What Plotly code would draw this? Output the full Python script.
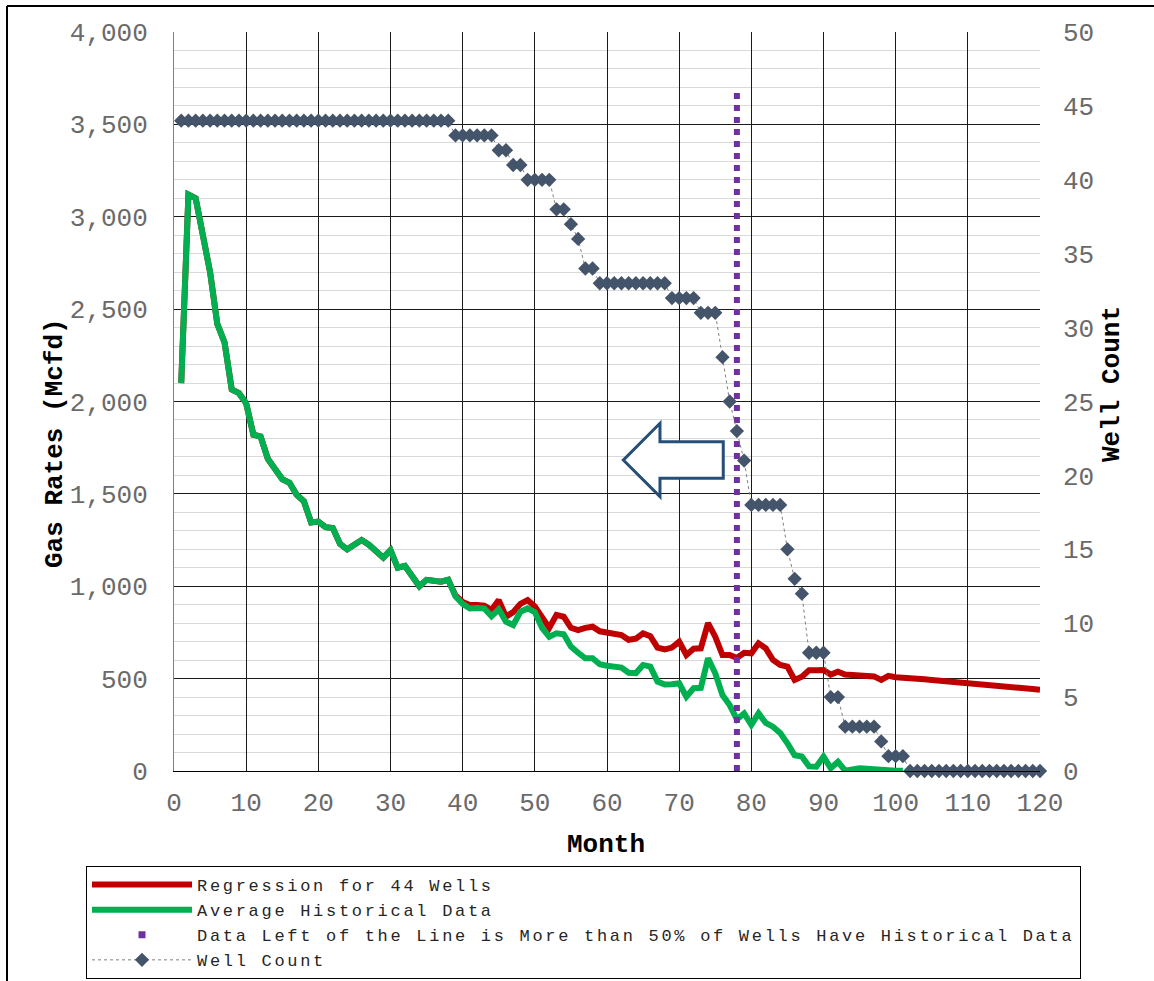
import plotly.graph_objects as go

# ---------------- data ----------------
months = list(range(1, 121))

avg_hist = [
    2100, 3120, 3100, 2880, 2700, 2420, 2320, 2065, 2045, 1990,
    1820, 1810, 1690, 1635, 1580, 1560, 1495, 1460, 1345, 1350,
    1320, 1315, 1230, 1200, 1225, 1250, 1225, 1190, 1155, 1195,
    1100, 1110, 1055, 1000, 1035, 1030, 1025, 1035, 945, 905,
    880, 882, 880, 838, 875, 808, 790, 862, 880, 860,
    775, 727, 745, 740, 673, 640, 610, 610, 578, 570,
    565, 560, 532, 530, 574, 565, 484, 468, 470, 475,
    402, 448, 450, 610, 529, 411, 357, 280, 312, 250,
    312, 260, 240, 205, 150, 85, 78, 25, 23, 78,
    15, 50, 2, 8, 15, 12, 8, 3, 2, 2,
    2,
]

regression = [
    2100, 3120, 3100, 2880, 2700, 2420, 2320, 2065, 2045, 1990,
    1820, 1810, 1690, 1635, 1580, 1560, 1495, 1460, 1345, 1350,
    1320, 1315, 1230, 1200, 1225, 1250, 1225, 1190, 1155, 1195,
    1100, 1110, 1055, 1000, 1035, 1030, 1025, 1035, 950, 915,
    898, 898, 895, 871, 925, 835, 860, 905, 925, 890,
    830, 775, 845, 835, 775, 763, 775, 781, 756, 750,
    745, 736, 710, 716, 745, 730, 668, 658, 668, 700,
    628, 662, 664, 800, 727, 628, 628, 612, 640, 637,
    691, 664, 601, 574, 565, 493, 510, 545, 545, 547,
    522, 537, 522, 520, 520, 520, 512, 493, 515, 508,
    507, 503, 500, 497, 493, 490, 487, 484, 480, 476,
    473, 469, 466, 462, 458, 455, 451, 448, 444, 440,
]

well_count = [
    44, 44, 44, 44, 44, 44, 44, 44, 44, 44,
    44, 44, 44, 44, 44, 44, 44, 44, 44, 44,
    44, 44, 44, 44, 44, 44, 44, 44, 44, 44,
    44, 44, 44, 44, 44, 44, 44, 44, 43, 43,
    43, 43, 43, 43, 42, 42, 41, 41, 40, 40,
    40, 40, 38, 38, 37, 36, 34, 34, 33, 33,
    33, 33, 33, 33, 33, 33, 33, 33, 32, 32,
    32, 32, 31, 31, 31, 28, 25, 23, 21, 18,
    18, 18, 18, 18, 15, 13, 12, 8, 8, 8,
    5, 5, 3, 3, 3, 3, 3, 2, 1, 1,
    1, 0, 0, 0, 0, 0, 0, 0, 0, 0,
    0, 0, 0, 0, 0, 0, 0, 0, 0, 0,
]

cutoff_month = [78, 78]
cutoff_rate = [0, 3700]

x_ticks = list(range(0, 121, 10))

series_names = [
    "Regression for 44 Wells",
    "Average Historical Data",
    "Data Left of the Line is More than 50% of Wells Have Historical Data",
    "Well Count",
]

# ---------------- styling ----------------
MONO = "Liberation Mono, Courier New, monospace"
TICK_FONT = dict(family=MONO, size=26, color="#6a6a6a")
TITLE_FONT = dict(family=MONO, size=26, color="#000000", weight="bold")
GRID = "#1a1a1a"


def legend_label(s):
    # widen the monospace legend text so it spans like the reference
    return '<span style="letter-spacing:2.7px">' + s + '</span>'


fig = go.Figure()

fig.add_trace(go.Scatter(
    x=months, y=regression, mode="lines", name=legend_label(series_names[0]),
    line=dict(color="#C00000", width=6)))

fig.add_trace(go.Scatter(
    x=months[:len(avg_hist)], y=avg_hist, mode="lines",
    name=legend_label(series_names[1]),
    line=dict(color="#00B050", width=6)))

fig.add_trace(go.Scatter(
    x=cutoff_month, y=cutoff_rate, mode="lines", showlegend=False,
    name=series_names[2],
    line=dict(color="#7030A0", width=6, dash="dot")))

fig.add_trace(go.Scatter(
    x=[None], y=[None], mode="markers", name=legend_label(series_names[2]),
    marker=dict(symbol="square", color="#7030A0", size=7)))

fig.add_trace(go.Scatter(
    x=months, y=well_count, yaxis="y2", mode="lines+markers",
    name=legend_label(series_names[3]),
    line=dict(color="#7f7f7f", width=1, dash="dot"),
    marker=dict(symbol="diamond", size=11, color="#44546A"),
    cliponaxis=False))

# paper-coordinate helpers (plot area is 866 x 739 px, left 174, top 32)
L, T, W, H = 174, 32, 866, 739


def px_x(p):
    return (p - L) / W


def px_y(p):
    return (T + H - p) / H


fig.update_layout(
    width=1154, height=981,
    margin=dict(l=L, r=1154 - L - W, t=T, b=981 - T - H, autoexpand=False),
    paper_bgcolor="white", plot_bgcolor="white",
    xaxis=dict(
        range=[0, 120], tickvals=x_ticks, showgrid=True, gridcolor=GRID, gridwidth=1,
        showline=True, linecolor="#000000", linewidth=1, zeroline=False,
        ticks="", tickfont=TICK_FONT, ticklabelstandoff=8),
    yaxis=dict(
        range=[0, 4000], dtick=500, tickformat=",", showgrid=True, gridcolor=GRID,
        gridwidth=1, minor=dict(dtick=100, showgrid=True, gridcolor="#d9d9d9", gridwidth=1),
        showline=True, linecolor="#808080", linewidth=1, zeroline=False,
        ticks="", tickfont=TICK_FONT, ticklabelstandoff=20),
    yaxis2=dict(
        range=[0, 50], dtick=5, overlaying="y", side="right", showgrid=False,
        zeroline=False, showline=False, ticks="", tickfont=TICK_FONT,
        ticklabelstandoff=22),
    showlegend=True,
    legend=dict(
        x=px_x(86), y=px_y(866), xanchor="left", yanchor="top",
        bordercolor="#000000", borderwidth=1, bgcolor="white",
        font=dict(family=MONO, size=17, color="#262626"),
        itemwidth=100, tracegroupgap=0),
    annotations=[
        dict(text="Gas Rates (Mcfd)", xref="paper", yref="paper",
             x=px_x(55), y=px_y(443), xanchor="center", yanchor="middle",
             textangle=-90, showarrow=False, font=TITLE_FONT),
        dict(text="Well Count", xref="paper", yref="paper",
             x=px_x(1112), y=px_y(384), xanchor="center", yanchor="middle",
             textangle=-90, showarrow=False, font=TITLE_FONT),
        dict(text="Month", xref="paper", yref="paper",
             x=px_x(606), y=px_y(845), xanchor="center", yanchor="middle",
             showarrow=False, font=TITLE_FONT),
    ],
    shapes=[
        # left-pointing outlined arrow
        dict(type="path", xref="x", yref="y",
             path="M 62.26,1683 L 67.34,1882 L 67.34,1782 L 76.11,1782 "
                  "L 76.11,1584 L 67.34,1584 L 67.34,1485 Z",
             line=dict(color="#264F78", width=3), fillcolor="white"),
        # outer frame lines (top and left)
        dict(type="line", xref="paper", yref="paper",
             x0=px_x(7), x1=px_x(1160), y0=px_y(6), y1=px_y(6),
             line=dict(color="#000000", width=2)),
        dict(type="line", xref="paper", yref="paper",
             x0=px_x(7), x1=px_x(7), y0=px_y(6), y1=px_y(990),
             line=dict(color="#000000", width=2)),
    ],
)

fig.write_html("out.html")
